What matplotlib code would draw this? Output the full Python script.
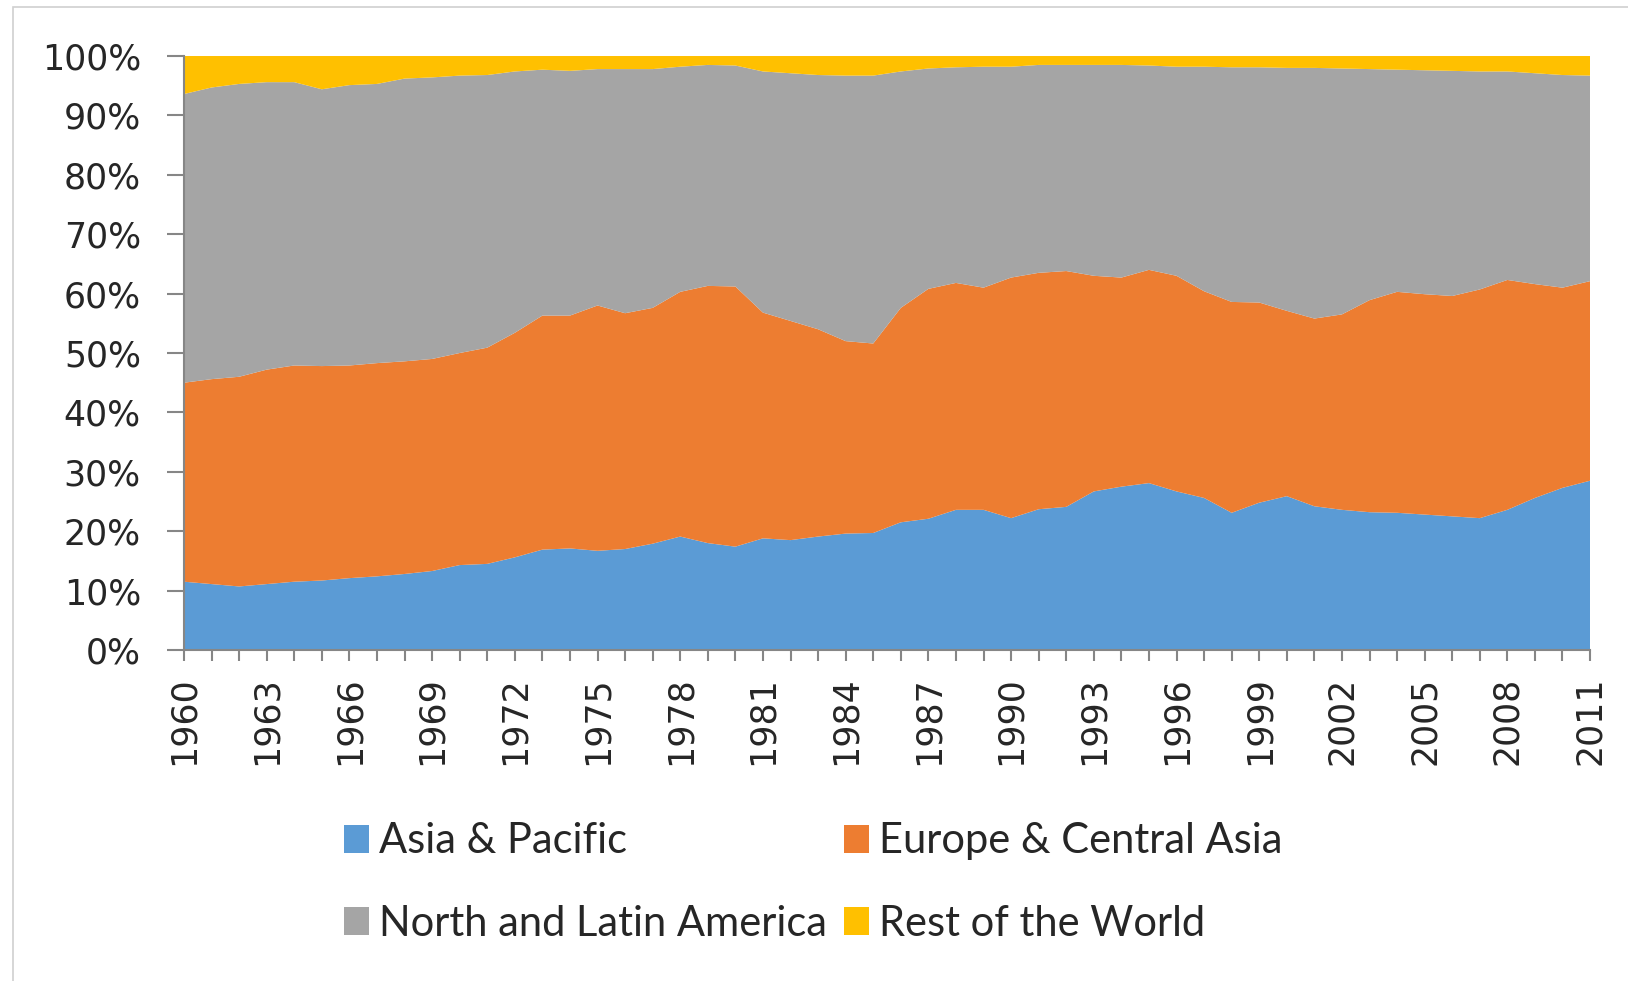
import numpy as np
import matplotlib
matplotlib.use('Agg')
import matplotlib.pyplot as plt
from matplotlib.ticker import FuncFormatter, MultipleLocator, FixedLocator
from matplotlib.patches import Rectangle

# shares of total, %
years = np.arange(1960, 2012)

asia = [11.5, 11.1, 10.7, 11.1, 11.5, 11.7, 12.1, 12.4, 12.8, 13.3,
        14.3, 14.5, 15.6, 16.9, 17.1, 16.7, 17.0, 17.9, 19.1, 18.0,
        17.4, 18.8, 18.5, 19.1, 19.6, 19.7, 21.5, 22.1, 23.6, 23.6,
        22.2, 23.7, 24.1, 26.7, 27.5, 28.1, 26.7, 25.6, 23.1, 24.8,
        25.9, 24.2, 23.6, 23.2, 23.1, 22.8, 22.5, 22.2, 23.6, 25.6,
        27.3, 28.5]
europe = [33.5, 34.5, 35.3, 36.1, 36.4, 36.1, 35.8, 35.9, 35.8, 35.7,
          35.7, 36.4, 37.8, 39.4, 39.2, 41.3, 39.7, 39.7, 41.2, 43.3,
          43.8, 38.0, 36.9, 34.9, 32.4, 31.9, 36.1, 38.7, 38.2, 37.4,
          40.5, 39.8, 39.7, 36.3, 35.2, 35.9, 36.3, 34.8, 35.5, 33.7,
          31.2, 31.6, 32.9, 35.7, 37.2, 37.1, 37.1, 38.5, 38.7, 36.0,
          33.7, 33.6]
america = [48.6, 49.1, 49.3, 48.4, 47.7, 46.6, 47.2, 47.0, 47.6, 47.4,
           46.7, 45.9, 44.0, 41.4, 41.2, 39.8, 41.1, 40.2, 37.9, 37.2,
           37.2, 40.6, 41.7, 42.8, 44.7, 45.1, 39.8, 37.1, 36.3, 37.2,
           35.5, 35.0, 34.7, 35.5, 35.8, 34.4, 35.2, 37.8, 39.5, 39.6,
           40.9, 42.2, 41.4, 38.9, 37.4, 37.7, 37.9, 36.7, 35.1, 35.5,
           35.8, 34.6]
rest = [6.4, 5.3, 4.7, 4.4, 4.4, 5.6, 4.9, 4.7, 3.8, 3.6,
        3.3, 3.2, 2.6, 2.3, 2.5, 2.2, 2.2, 2.2, 1.8, 1.5,
        1.6, 2.6, 2.9, 3.2, 3.3, 3.3, 2.6, 2.1, 1.9, 1.8,
        1.8, 1.5, 1.5, 1.5, 1.5, 1.6, 1.8, 1.8, 1.9, 1.9,
        2.0, 2.0, 2.1, 2.2, 2.3, 2.4, 2.5, 2.6, 2.6, 2.9,
        3.2, 3.3]

labels = ['Asia & Pacific', 'Europe & Central Asia',
          'North and Latin America', 'Rest of the World']
colors = ['#5B9BD5', '#ED7D31', '#A5A5A5', '#FFC000']
year_ticks = list(range(1960, 2012, 3))

data = np.array([asia, europe, america, rest], dtype=float)
data = data / data.sum(axis=0)   # 100% stacked

fig = plt.figure(figsize=(16.28, 9.81), dpi=100, facecolor='white')
ax = fig.add_axes([0.1130, 0.3374, 0.8637, 0.6055])

polys = ax.stackplot(years, data, colors=colors, labels=labels, linewidth=0)

ax.set_xlim(1960, 2011)
ax.set_ylim(0, 1)

axis_gray = '#868686'
for side in ['top', 'right']:
    ax.spines[side].set_visible(False)
for side in ['left', 'bottom']:
    ax.spines[side].set_color(axis_gray)
    ax.spines[side].set_linewidth(1.5)

ax.yaxis.set_major_locator(MultipleLocator(0.1))
ax.yaxis.set_major_formatter(FuncFormatter(lambda v, p: '%d%%' % round(v * 100)))
ax.xaxis.set_major_locator(FixedLocator(year_ticks))
ax.xaxis.set_minor_locator(MultipleLocator(1))
ax.xaxis.set_major_formatter(FuncFormatter(lambda v, p: '%d' % v))

ax.tick_params(axis='y', length=12, width=1.5, color=axis_gray, pad=19,
               labelsize=25, labelcolor='#262626')
ax.tick_params(axis='x', which='both', length=8, width=1.5, color=axis_gray,
               pad=11, labelsize=25, labelcolor='#262626', labelrotation=90)

for t in ax.get_yticklabels() + ax.get_xticklabels():
    t.set_family('DejaVu Sans')

# legend filled column-wise, so reorder to get rows Asia|Europe, America|Rest
order = [0, 2, 1, 3]
leg = fig.legend([polys[i] for i in order], [labels[i] for i in order],
                 loc='upper left', bbox_to_anchor=(0.188, 0.200),
                 ncol=2, frameon=False, prop={'family': 'Lato', 'size': 30},
                 handlelength=0.6, handleheight=0.65, handletextpad=0.25,
                 columnspacing=0.4, labelspacing=1.07)
for t in leg.get_texts():
    t.set_color('#262626')

# chart area border (only top/left visible in the crop)
fig.patches.append(Rectangle((13 / 1628, -0.1), 1.2, 1.1 - 7 / 981,
                             transform=fig.transFigure, fill=False,
                             edgecolor='#D0D0D0', linewidth=1.2))

fig.savefig('out.png', dpi=100, facecolor='white')
